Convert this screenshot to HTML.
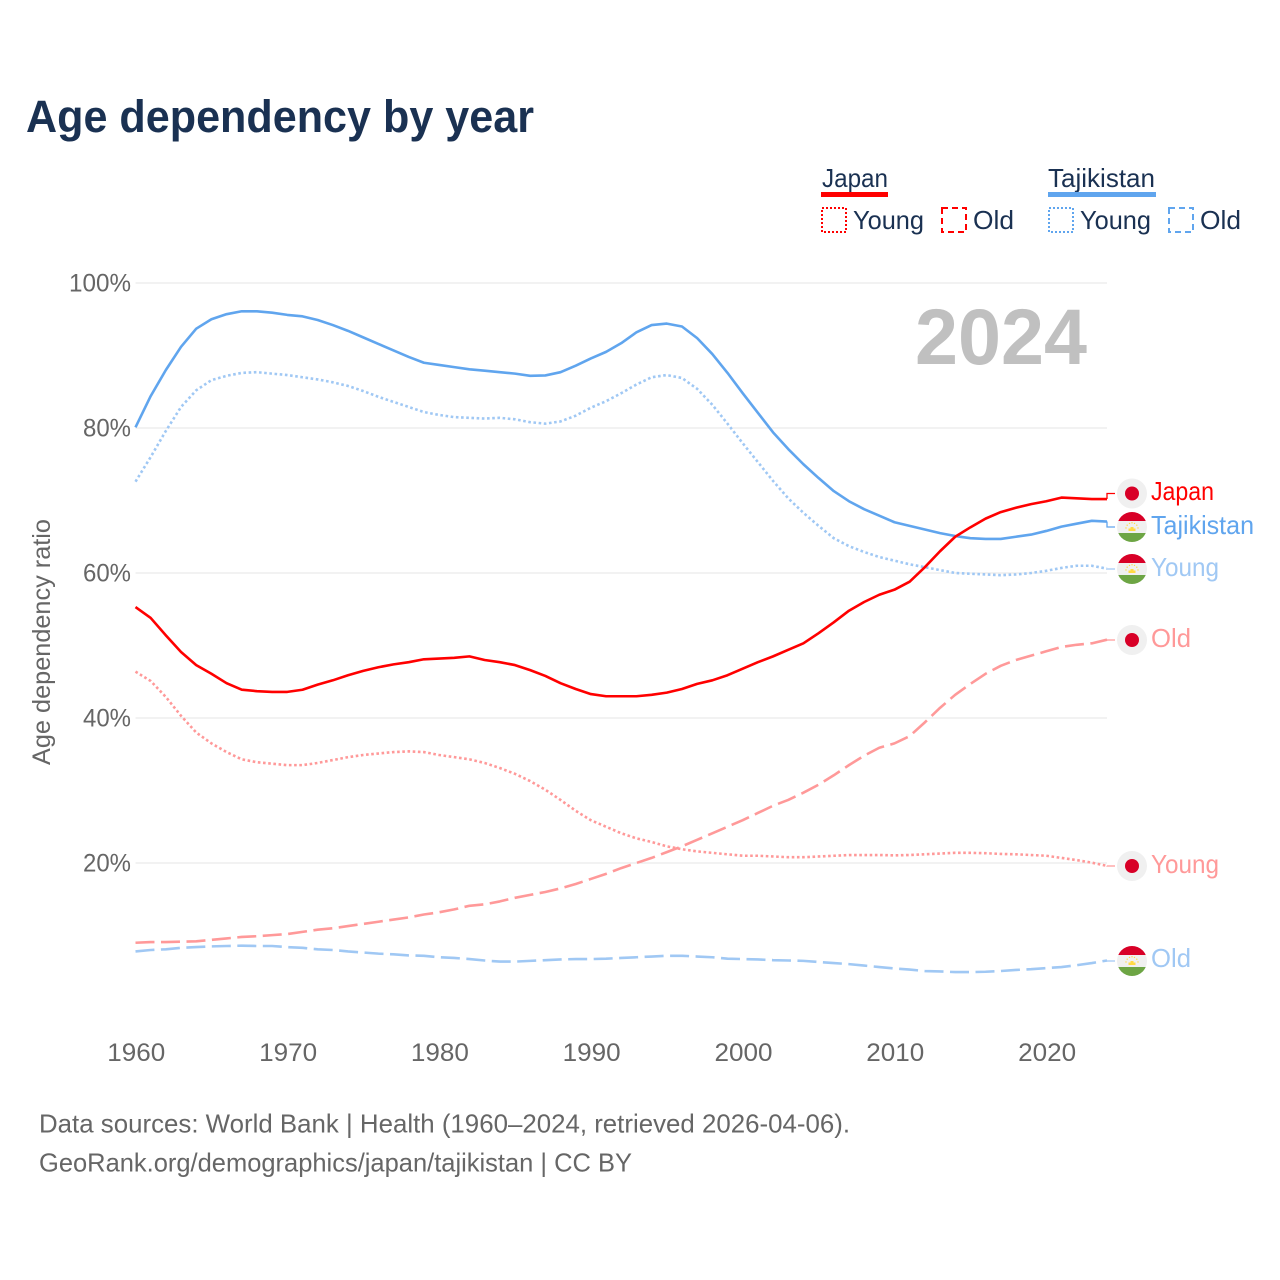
<!DOCTYPE html>
<html lang="en">
<head>
<meta charset="utf-8">
<title>Age dependency by year</title>
<style>
html,body{margin:0;padding:0;background:#fff;}
svg{display:block;font-family:"Liberation Sans",sans-serif;}
text{white-space:pre;}
</style>
</head>
<body>
<svg id="chart" width="1280" height="1280" viewBox="0 0 1280 1280" xmlns="http://www.w3.org/2000/svg">
  <rect x="0" y="0" width="1280" height="1280" fill="#fff"/>
  <text x="26" y="132" font-size="45" font-weight="700" fill="#1a3152" textLength="508" lengthAdjust="spacingAndGlyphs">Age dependency by year</text>

  <g font-size="26" fill="#1a3152">
    <text x="822" y="187" textLength="66" lengthAdjust="spacingAndGlyphs">Japan</text>
    <rect x="821" y="192" width="67" height="5" fill="#ff0000"/>
    <rect x="822" y="208" width="24" height="24" fill="none" stroke="#ff0000" stroke-width="2" stroke-dasharray="2 2"/>
    <text x="853" y="229" textLength="71" lengthAdjust="spacingAndGlyphs">Young</text>
    <rect x="942" y="208" width="24" height="24" fill="none" stroke="#ff0000" stroke-width="2" stroke-dasharray="6 4"/>
    <text x="973" y="229" textLength="41" lengthAdjust="spacingAndGlyphs">Old</text>
    <text x="1048" y="187" textLength="107" lengthAdjust="spacingAndGlyphs">Tajikistan</text>
    <rect x="1048" y="192" width="108" height="5" fill="#60a5ee"/>
    <rect x="1049" y="208" width="24" height="24" fill="none" stroke="#60a5ee" stroke-width="2" stroke-dasharray="2 2"/>
    <text x="1080" y="229" textLength="71" lengthAdjust="spacingAndGlyphs">Young</text>
    <rect x="1169" y="208" width="24" height="24" fill="none" stroke="#60a5ee" stroke-width="2" stroke-dasharray="6 4"/>
    <text x="1200" y="229" textLength="41" lengthAdjust="spacingAndGlyphs">Old</text>
  </g>

  <g id="grid"></g>
  <g id="yticks"></g>
  <g id="xticks"></g>

  <text transform="translate(50,642) rotate(-90)" text-anchor="middle" font-size="25" fill="#666666" textLength="246" lengthAdjust="spacingAndGlyphs">Age dependency ratio</text>
  <text x="915" y="364" font-size="79" font-weight="700" fill="#c0c0c0" textLength="172" lengthAdjust="spacingAndGlyphs">2024</text>

  <g id="series"></g>

  <g id="end-labels">
    <defs>
      <clipPath id="clip-t1"><circle cx="1132" cy="527" r="15"/></clipPath>
      <clipPath id="clip-t2"><circle cx="1132" cy="569" r="15"/></clipPath>
      <clipPath id="clip-t3"><circle cx="1132" cy="961" r="15"/></clipPath>
      <g id="tj-emblem" fill="#ffda44">
        <rect x="-3.5" y="1.5" width="7" height="2.5"/>
        <rect x="-1.5" y="0" width="3" height="2"/>
        <circle cx="-6" cy="1" r="0.7"/><circle cx="-4.8" cy="-1.8" r="0.7"/><circle cx="-2.5" cy="-3.6" r="0.7"/><circle cx="0" cy="-4.2" r="0.7"/><circle cx="2.5" cy="-3.6" r="0.7"/><circle cx="4.8" cy="-1.8" r="0.7"/><circle cx="6" cy="1" r="0.7"/>
      </g>
    </defs>
    <g>
      <circle cx="1132" cy="493.5" r="15" fill="#f0f0f0"/><circle cx="1132" cy="493.5" r="7" fill="#d80027"/>
    </g>
    <g clip-path="url(#clip-t1)">
      <rect x="1117" y="512" width="30" height="9" fill="#d80027"/><rect x="1117" y="521" width="30" height="12" fill="#f0f0f0"/><rect x="1117" y="533" width="30" height="9" fill="#6da544"/>
      <use href="#tj-emblem" transform="translate(1132,527)"/>
    </g>
    <g clip-path="url(#clip-t2)">
      <rect x="1117" y="554" width="30" height="9" fill="#d80027"/><rect x="1117" y="563" width="30" height="12" fill="#f0f0f0"/><rect x="1117" y="575" width="30" height="9" fill="#6da544"/>
      <use href="#tj-emblem" transform="translate(1132,569)"/>
    </g>
    <g>
      <circle cx="1132" cy="640" r="15" fill="#f0f0f0"/><circle cx="1132" cy="640" r="7" fill="#d80027"/>
    </g>
    <g>
      <circle cx="1132" cy="866" r="15" fill="#f0f0f0"/><circle cx="1132" cy="866" r="7" fill="#d80027"/>
    </g>
    <g clip-path="url(#clip-t3)">
      <rect x="1117" y="946" width="30" height="9" fill="#d80027"/><rect x="1117" y="955" width="30" height="12" fill="#f0f0f0"/><rect x="1117" y="967" width="30" height="9" fill="#6da544"/>
      <use href="#tj-emblem" transform="translate(1132,961)"/>
    </g>
    <text x="1151" y="500" font-size="26" fill="#ff0000" textLength="63" lengthAdjust="spacingAndGlyphs">Japan</text>
    <text x="1151" y="534" font-size="26" fill="#60a5ee" textLength="103" lengthAdjust="spacingAndGlyphs">Tajikistan</text>
    <text x="1151" y="576" font-size="26" fill="#a0c8f4" textLength="68" lengthAdjust="spacingAndGlyphs">Young</text>
    <text x="1151" y="647" font-size="26" fill="#ff9999" textLength="40" lengthAdjust="spacingAndGlyphs">Old</text>
    <text x="1151" y="873" font-size="26" fill="#ff9999" textLength="68" lengthAdjust="spacingAndGlyphs">Young</text>
    <text x="1151" y="967" font-size="26" fill="#a0c8f4" textLength="40" lengthAdjust="spacingAndGlyphs">Old</text>
  </g>

  <text x="39" y="1132.5" font-size="26" fill="#666666" textLength="811" lengthAdjust="spacingAndGlyphs">Data sources: World Bank | Health (1960–2024, retrieved 2026-04-06).</text>
  <text x="39" y="1171.5" font-size="26" fill="#666666" textLength="593" lengthAdjust="spacingAndGlyphs">GeoRank.org/demographics/japan/tajikistan | CC BY</text>
</svg>
<script>
const years = [1960,1961,1962,1963,1964,1965,1966,1967,1968,1969,1970,1971,1972,1973,1974,1975,1976,1977,1978,1979,1980,1981,1982,1983,1984,1985,1986,1987,1988,1989,1990,1991,1992,1993,1994,1995,1996,1997,1998,1999,2000,2001,2002,2003,2004,2005,2006,2007,2008,2009,2010,2011,2012,2013,2014,2015,2016,2017,2018,2019,2020,2021,2022,2023,2024];
const japanTotal = [55.3,53.8,51.4,49.1,47.3,46.1,44.8,43.9,43.7,43.6,43.6,43.9,44.6,45.2,45.9,46.5,47,47.4,47.7,48.1,48.2,48.3,48.5,48,47.7,47.3,46.6,45.8,44.8,44,43.3,43,43,43,43.2,43.5,44,44.7,45.2,45.9,46.8,47.7,48.5,49.4,50.3,51.7,53.2,54.8,56,57,57.7,58.8,60.8,63,65,66.3,67.5,68.4,69,69.5,69.9,70.4,70.3,70.2,70.2];
const japanYoung = [46.4,45.1,42.9,40.3,38,36.5,35.3,34.3,33.9,33.7,33.5,33.5,33.8,34.2,34.6,34.9,35.1,35.3,35.4,35.3,34.9,34.6,34.3,33.8,33.1,32.3,31.3,30.1,28.7,27.2,25.9,25,24.1,23.4,22.9,22.3,21.9,21.6,21.4,21.2,21,21,20.9,20.8,20.8,20.9,21,21.1,21.1,21.1,21.05,21.1,21.2,21.3,21.4,21.4,21.35,21.25,21.2,21.1,21,20.7,20.4,20.05,19.6];
const japanOld = [9,9.1,9.1,9.15,9.2,9.4,9.6,9.8,9.9,10.05,10.2,10.5,10.8,11,11.3,11.6,11.9,12.2,12.5,12.9,13.2,13.6,14.1,14.3,14.7,15.2,15.6,16,16.5,17.1,17.8,18.5,19.3,20,20.7,21.5,22.3,23.2,24.1,25,25.9,26.9,27.9,28.7,29.7,30.8,32.1,33.5,34.8,35.9,36.5,37.5,39.4,41.4,43.2,44.7,46.1,47.2,48,48.6,49.2,49.8,50.1,50.3,50.8];
const tajikTotal = [80.1,84.4,88,91.2,93.7,95,95.7,96.1,96.1,95.9,95.6,95.4,94.9,94.2,93.4,92.5,91.6,90.7,89.8,89,88.7,88.4,88.1,87.9,87.7,87.5,87.2,87.25,87.7,88.6,89.6,90.5,91.7,93.2,94.2,94.4,94,92.4,90.2,87.6,84.8,82.1,79.4,77.1,75,73.1,71.3,69.9,68.8,67.9,67,66.5,66,65.5,65.1,64.8,64.7,64.7,65,65.3,65.8,66.4,66.8,67.2,67.1];
const tajikYoung = [72.6,76,79.6,82.9,85.2,86.6,87.2,87.6,87.7,87.5,87.3,87,86.7,86.3,85.8,85.1,84.3,83.6,82.9,82.2,81.8,81.5,81.4,81.3,81.4,81.2,80.8,80.6,80.9,81.7,82.8,83.7,84.8,86,87,87.3,86.9,85.4,83.2,80.6,77.9,75.3,72.7,70.3,68.3,66.5,64.8,63.7,62.9,62.2,61.7,61.2,60.8,60.4,60,59.9,59.8,59.7,59.8,60,60.3,60.7,61,61,60.6];
const tajikOld = [7.8,8,8.1,8.3,8.4,8.5,8.55,8.6,8.55,8.55,8.4,8.3,8.1,8,7.8,7.65,7.5,7.4,7.25,7.2,7,6.9,6.75,6.55,6.4,6.4,6.5,6.6,6.7,6.75,6.75,6.8,6.9,7,7.1,7.2,7.2,7.1,7,6.8,6.75,6.7,6.6,6.55,6.5,6.35,6.2,6.05,5.85,5.65,5.45,5.3,5.1,5.05,4.95,4.95,5,5.1,5.25,5.35,5.5,5.65,5.9,6.2,6.55];
const xTickYears = [1960,1970,1980,1990,2000,2010,2020];
const yTickValues = [20,40,60,80,100];

const NS = 'http://www.w3.org/2000/svg';
function xScale(year){ return 135.5 + (year - 1960) * (1107 - 135.5) / 64; }
function yScale(value){ return 1008 - value * 7.25; }
function make(tag, parent){
  const el = document.createElementNS(NS, tag);
  document.getElementById(parent).appendChild(el);
  return el;
}

yTickValues.forEach(function(v){
  const line = make('line', 'grid');
  
  
  line.setAttribute('x1', xScale(1960));
  line.setAttribute('x2', xScale(2024));
  line.setAttribute('y1', yScale(v));
  line.setAttribute('y2', yScale(v));
  line.setAttribute('stroke', '#e6e6e6');
  line.setAttribute('stroke-width', '1');
  const t = make('text', 'yticks');
  
  
  t.setAttribute('x', 131);
  t.setAttribute('y', yScale(v) + 8.5);
  t.setAttribute('text-anchor', 'end');
  t.setAttribute('font-size', '25');
  t.setAttribute('fill', '#666666');
  t.setAttribute('textLength', String(v).length * 14 + 20);
  t.setAttribute('lengthAdjust', 'spacingAndGlyphs');
  t.textContent = v + '%';
});

xTickYears.forEach(function(y){
  const t = make('text', 'xticks');
  
  
  t.setAttribute('x', xScale(y) + 0.8);
  t.setAttribute('y', 1061);
  t.setAttribute('text-anchor', 'middle');
  t.setAttribute('font-size', '25');
  t.setAttribute('fill', '#666666');
  t.setAttribute('textLength', '58');
  t.setAttribute('lengthAdjust', 'spacingAndGlyphs');
  t.textContent = y;
});

const seriesList = [
  { key: 'japan-young', values: japanYoung, color: '#ff9999', dash: '2.6 2.6', endY: 866 },
  { key: 'japan-old', values: japanOld, color: '#ff9999', dash: '19 6.5', endY: 640 },
  { key: 'tajikistan-young', values: tajikYoung, color: '#a0c8f4', dash: '2.6 2.6', endY: 569 },
  { key: 'tajikistan-old', values: tajikOld, color: '#a0c8f4', dash: '19 6.5', endY: 961 },
  { key: 'tajikistan-total', values: tajikTotal, color: '#60a5ee', dash: '', endY: 527 },
  { key: 'japan-total', values: japanTotal, color: '#ff0000', dash: '', endY: 493.5 }
];

seriesList.forEach(function(s){
  const path = make('path', 'series');
  
  
  path.setAttribute('d', s.values.map(function(v, i){
    return (i ? 'L' : 'M') + xScale(years[i]).toFixed(2) + ' ' + yScale(v).toFixed(2);
  }).join(''));
  path.setAttribute('fill', 'none');
  path.setAttribute('stroke', s.color);
  path.setAttribute('stroke-width', '2.6');
  path.setAttribute('stroke-linejoin', 'round');
  if (s.dash) path.setAttribute('stroke-dasharray', s.dash);
  const lastX = xScale(years[years.length - 1]);
  const lastY = yScale(s.values[s.values.length - 1]);
  const conn = make('path', 'series');
  
  
  conn.setAttribute('d', 'M' + lastX + ' ' + lastY + 'V' + s.endY + 'H' + (lastX + 8));
  conn.setAttribute('fill', 'none');
  conn.setAttribute('stroke', s.color);
  conn.setAttribute('stroke-width', '1.3');
});
</script>
</body>
</html>
